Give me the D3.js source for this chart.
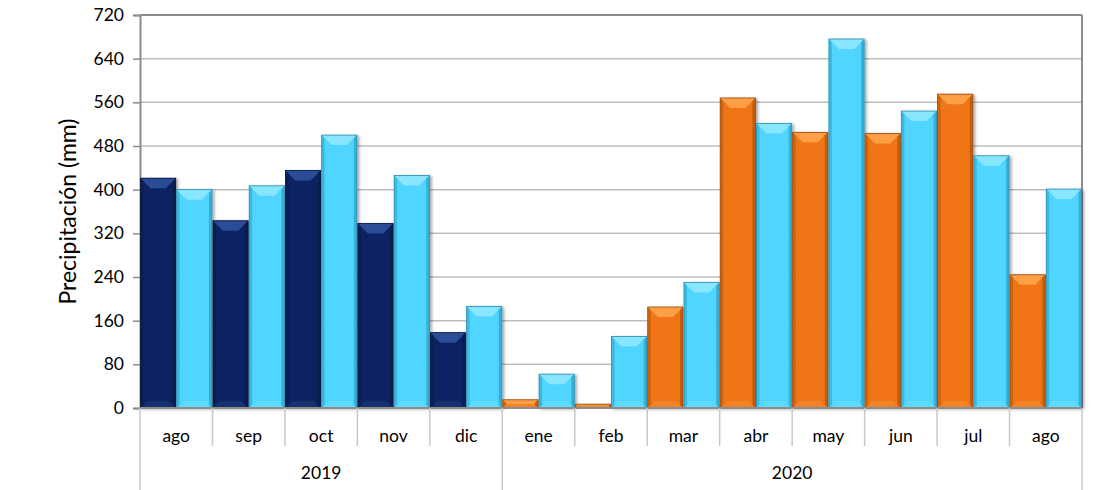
<!DOCTYPE html>
<html><head><meta charset="utf-8">
<script src="https://cdn.jsdelivr.net/npm/d3@7"></script>
<style>body{margin:0;background:#fff}svg{display:block}text{font-family:Lato,"Open Sans",sans-serif;fill:#000}</style>
</head><body><svg id="c" width="1094" height="490"></svg>
<script>
const months = ["ago","sep","oct","nov","dic","ene","feb","mar","abr","may","jun","jul","ago"];
const years = ["2019","2019","2019","2019","2019","2020","2020","2020","2020","2020","2020","2020","2020"];
const yearLabels = ["2019","2020"];
const seriesA = [421,343,435,338,138,15,7,185,568,505,503,575,244];
const seriesB = [400,407,500,426,186,62,131,230,521,676,544,462,401];
const yTicks = [0,80,160,240,320,400,480,560,640,720];

const svg = d3.select("#c");
const L=140,R=1082,T=15,B=408;
const idx = d3.range(months.length);
const x = d3.scaleBand().domain(idx).range([L,R]).padding(0);
const xi = d3.scaleBand().domain([0,1]).range([0,x.bandwidth()]).padding(0);
const y = d3.scaleLinear().domain([0,720]).range([B,T]);

const defs = svg.append("defs");
const f = defs.append("filter").attr("id","sh").attr("x","-20%").attr("y","-5%").attr("width","150%").attr("height","115%");
f.append("feDropShadow").attr("dx",2).attr("dy",1).attr("stdDeviation",1.6).attr("flood-color","#000").attr("flood-opacity",0.35);

svg.append("g").selectAll("line").data(yTicks.slice(1)).join("line")
  .attr("x1",L).attr("x2",R).attr("y1",d=>y(d)).attr("y2",d=>y(d))
  .attr("stroke",d=>d===720?"#8c8c8c":"#bdbdbd").attr("stroke-width",d=>d===720?2:1.5);
svg.append("line").attr("x1",R).attr("x2",R).attr("y1",T).attr("y2",B).attr("stroke","#8c8c8c").attr("stroke-width",2);

const ya = svg.append("g").attr("transform",`translate(${L},0)`).call(d3.axisLeft(y).tickValues(yTicks).tickSize(7).tickPadding(9));
ya.select(".domain").attr("stroke","#8c8c8c").attr("stroke-width",2);
ya.selectAll(".tick line").attr("stroke","#8c8c8c").attr("stroke-width",1.5);
ya.selectAll(".tick text").style("font-size","17.5px").style("font-family","Lato,'Open Sans',sans-serif");

svg.append("text").attr("transform",`translate(70,${(T+B)/2}) rotate(-90)`).attr("text-anchor","middle")
  .attr("dominant-baseline","middle").style("font-size","23px").text("Precipitación (mm)");

const palettes = {
  navy:{main:"#0c2463",top:"#2c4b96",side:"#071844",bot:"#13306e",stroke:"#061638"},
  orange:{main:"#f07413",top:"#fd9f45",side:"#b9560a",bot:"#f48225",stroke:"#9a4a0d"},
  cyan:{main:"#4fd5ff",top:"#88e6ff",side:"#2fa6cc",bot:"#5cdbff",stroke:"#2a8fb2"}
};
const bars = [];
idx.forEach(i=>{
  bars.push({i,k:0,v:seriesA[i],p:years[i]==="2019"?"navy":"orange"});
  bars.push({i,k:1,v:seriesB[i],p:"cyan"});
});
const bg = svg.append("g");
bars.forEach(d=>{
  const c = palettes[d.p];
  const x0 = x(d.i)+xi(d.k)+0.5, w = xi.bandwidth()-1, y0 = y(d.v), y1 = y(0);
  const h = y1-y0;
  const g = bg.append("g").attr("filter","url(#sh)");
  g.append("rect").attr("x",x0).attr("y",y0).attr("width",w).attr("height",h).attr("fill",c.main);
  const b = Math.min(10,h/2), s = Math.min(3,h/2), bb = Math.min(7,h/2);
  g.append("polygon").attr("points",[[x0,y0],[x0+w,y0],[x0+w-b,y0+b],[x0+b,y0+b]].join(" ")).attr("fill",c.top);
  g.append("polygon").attr("points",[[x0,y1],[x0+w,y1],[x0+w-bb,y1-bb],[x0+bb,y1-bb]].join(" ")).attr("fill",c.bot);
  g.append("polygon").attr("points",[[x0,y0],[x0+s,y0+s],[x0+s,y1-s],[x0,y1]].join(" ")).attr("fill",c.side).attr("opacity",0.6);
  g.append("polygon").attr("points",[[x0+w,y0],[x0+w-s,y0+s],[x0+w-s,y1-s],[x0+w,y1]].join(" ")).attr("fill",c.side).attr("opacity",0.8);
  g.append("rect").attr("x",x0).attr("y",y0).attr("width",w).attr("height",h).attr("fill","none").attr("stroke",c.stroke).attr("stroke-width",0.8);
});

svg.append("line").attr("x1",L).attr("x2",R).attr("y1",B).attr("y2",B).attr("stroke","#8c8c8c").attr("stroke-width",2);

const ca = svg.append("g");
const bounds = d3.range(months.length+1).map(i=> i<months.length? x(i): R);
bounds.forEach((bx,i)=>{
  const long = (i===0 || i===months.length || years[i]!==years[i-1]);
  ca.append("line").attr("x1",bx).attr("x2",bx).attr("y1",B).attr("y2",long?490:446)
    .attr("stroke","#c8c8c8").attr("stroke-width",1.5);
});
ca.selectAll("text.m").data(idx).join("text").attr("class","m")
  .attr("x",i=>x(i)+x.bandwidth()/2).attr("y",442).attr("text-anchor","middle").style("font-size","17.5px").text(i=>months[i]);
yearLabels.forEach(yr=>{
  const ii = idx.filter(i=>years[i]===yr);
  const cx = (x(ii[0]) + x(ii[ii.length-1])+x.bandwidth())/2;
  ca.append("text").attr("x",cx).attr("y",479).attr("text-anchor","middle").style("font-size","17.5px").text(yr);
});
</script></body></html>
